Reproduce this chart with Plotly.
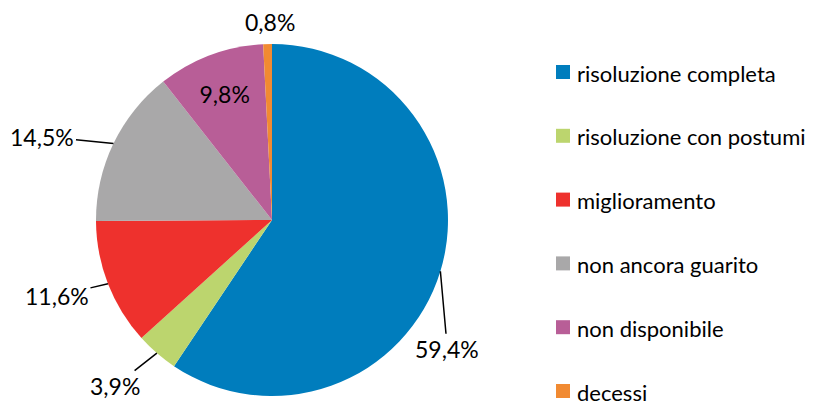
import math
import plotly.graph_objects as go

labels = ["risoluzione completa", "risoluzione con postumi", "miglioramento",
          "non ancora guarito", "non disponibile", "decessi"]
values = [59.4, 3.9, 11.6, 14.5, 9.8, 0.8]
colors = ["#007DBD", "#BCD56E", "#EE312D", "#A9A8A9", "#B85E97", "#F18A32"]

# label styling: inside label or outside label with (dx, dy) pixel offset and leader line
label_inside = [False, False, False, False, True, False]
label_offset = [(7, 78), (-42, 33), (-51, 12), (-71, -7), None, (2, -22)]
leader_line = [True, True, True, True, False, False]

FONT = "Lato, Carlito, Calibri, sans-serif"
W, H = 837, 402
PIE_X = [96, 448]      # pixel extent of pie domain
PIE_Y = [44, 396]      # pixel extent (from top)
R = (PIE_X[1] - PIE_X[0]) / 2
CX = (PIE_X[0] + PIE_X[1]) / 2
CY = (PIE_Y[0] + PIE_Y[1]) / 2

# legend layout (pixels)
LEG_X = 556
LEG_Y0 = 72
LEG_STEP = 63.8
LEG_SQ = 14

fig = go.Figure()
fig.add_trace(go.Pie(
    labels=labels, values=values, sort=False, direction="clockwise", rotation=0,
    marker=dict(colors=colors, line=dict(width=0)),
    texttemplate="%{value:.1f}%",
    textposition=["inside" if i else "none" for i in label_inside],
    textfont=dict(family=FONT, size=23, color="#000000"),
    insidetextorientation="horizontal",
    showlegend=False, hoverinfo="label+percent",
    domain=dict(x=[PIE_X[0] / W, PIE_X[1] / W],
                y=[1 - PIE_Y[1] / H, 1 - PIE_Y[0] / H]),
))

total = sum(values)
cum = 0.0
for v, ins, off, lead in zip(values, label_inside, label_offset, leader_line):
    mid = (cum + v / 2) / total * 2 * math.pi
    cum += v
    if ins:
        continue
    px = CX + R * math.sin(mid)
    py = CY - R * math.cos(mid)
    fig.add_annotation(
        x=px / W, y=1 - py / H, xref="paper", yref="paper",
        text=f"{v:.1f}%".replace(".", ","),
        showarrow=True, arrowhead=0, arrowwidth=1.5,
        arrowcolor="#000000" if lead else "rgba(0,0,0,0)",
        ax=off[0], ay=off[1], standoff=0,
        font=dict(family=FONT, size=23, color="#000000"),
    )

# legend drawn as squares + text
for i, (lab, col) in enumerate(zip(labels, colors)):
    yc = LEG_Y0 + i * LEG_STEP
    fig.add_shape(type="rect", xref="paper", yref="paper",
                  x0=LEG_X / W, x1=(LEG_X + LEG_SQ) / W,
                  y0=1 - (yc + LEG_SQ / 2) / H, y1=1 - (yc - LEG_SQ / 2) / H,
                  fillcolor=col, line=dict(width=0))
    fig.add_annotation(x=(LEG_X + LEG_SQ + 5) / W, y=1 - (yc + 1) / H,
                       xref="paper", yref="paper", xanchor="left", yanchor="middle",
                       text=lab, showarrow=False,
                       font=dict(family=FONT, size=22, color="#000000"))

fig.update_layout(
    width=W, height=H, margin=dict(l=0, r=0, t=0, b=0, autoexpand=False),
    paper_bgcolor="white", plot_bgcolor="white",
    separators=",.",
    showlegend=False,
)
fig.write_html("out.html", config={"displayModeBar": False},
               post_script="document.body.style.margin='0';document.body.style.overflow='hidden';")
